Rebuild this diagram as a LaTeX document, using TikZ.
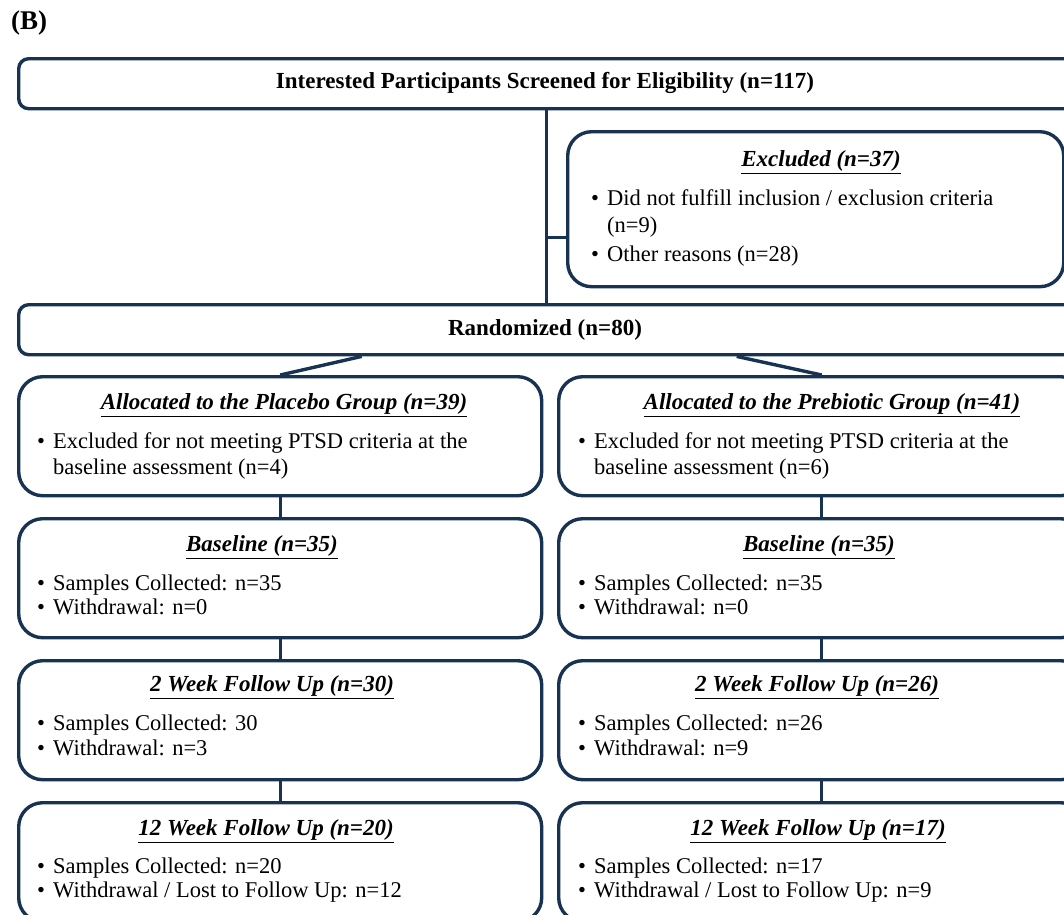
\documentclass[tikz,border=0pt]{standalone}
\usepackage{fontspec}
\setmainfont{Liberation Serif}
\definecolor{navy}{RGB}{24,50,82}
\newcommand{\mybul}{\makebox[16pt][l]{\textbullet}}
\newcommand{\ttltext}[1]{\underline{#1}}
\begin{document}
\begin{tikzpicture}[x=1pt,y=-1pt,
 box/.style={draw=navy, line width=3.4pt, rounded corners=24pt, anchor=north west, inner sep=0pt},
 widebox/.style={box, rounded corners=10pt, minimum width=1056pt, minimum height=50pt},
 colbox/.style={box, minimum height=119pt},
 lbox/.style={colbox, minimum width=523pt},
 rbox/.style={colbox, minimum width=526pt},
 hd/.style={font=\fontsize{23}{27}\selectfont\bfseries, inner sep=0pt},
 ttl/.style={font=\fontsize{23}{27}\selectfont\bfseries\itshape, inner sep=0pt},
 txt/.style={font=\fontsize{22.5}{26}\selectfont, anchor=base west, inner sep=0pt},
 link/.style={draw=navy, line width=3.4pt}]
\useasboundingbox (0,0) rectangle (1064,914);
\clip (0,0) rectangle (1064,914);

% label
\node[font=\fontsize{27}{30}\selectfont\bfseries, inner sep=0pt, anchor=west] (lab) at (11,23) {(B)};

% boxes
\node[widebox] (top) at (17,57) {};
\node[box, minimum width=496pt, minimum height=155pt] (exc) at (566,130) {};
\node[widebox] (rand) at (17,303) {};
\node[lbox] (pl) at (17,375) {};
\node[rbox] (pb) at (557,375) {};
\node[lbox] (bl) at (17,517) {};
\node[rbox] (bb) at (557,517) {};
\node[lbox] (wl) at (17,659) {};
\node[rbox] (wb) at (557,659) {};
\node[lbox] (tl) at (17,801) {};
\node[rbox] (tb) at (557,801) {};

% connectors
\draw[link] (top.south) -- (rand.north);
\coordinate (excin) at ([yshift=-28pt]exc.west);
\draw[link] (excin) -- (excin -| top.south);
\draw[link] ([xshift=-185pt]rand.south) -- (pl.north);
\draw[link] ([xshift=190pt]rand.south) -- (pb.north);
\draw[link] (pl.south) -- (bl.north);
\draw[link] (bl.south) -- (wl.north);
\draw[link] (wl.south) -- (tl.north);
\draw[link] (pb.south) -- (bb.north);
\draw[link] (bb.south) -- (wb.north);
\draw[link] (wb.south) -- (tb.north);

% top texts
\node[hd] (toptxt) at (545,83) {Interested Participants Screened for Eligibility (n=117)};
\node[hd] (randtxt) at (545,330) {Randomized (n=80)};

% excluded
\node[ttl] (exct) at (821,162) {\ttltext{Excluded (n=37)}};
\node[txt] (exc1) at (591,205) {\mybul Did not fulfill inclusion / exclusion criteria};
\node[txt] (exc2) at (607,232) {(n=9)};
\node[txt] (exc3) at (591,261) {\mybul Other reasons (n=28)};

% placebo column
\node[ttl] (plt) at (284,405) {\ttltext{Allocated to the Placebo Group (n=39)}};
\node[txt] (pl1) at (37,448) {\mybul Excluded for not meeting PTSD criteria at the};
\node[txt] (pl2) at (53,474) {baseline assessment (n=4)};

\node[ttl] (blt) at (262,547) {\ttltext{Baseline (n=35)}};
\node[txt] (bl1) at (37,590) {\mybul Samples Collected: n=35};
\node[txt] (bl2) at (37,614) {\mybul Withdrawal: n=0};

\node[ttl] (wlt) at (272,687) {\ttltext{2 Week Follow Up (n=30)}};
\node[txt] (wl1) at (37,730) {\mybul Samples Collected: 30};
\node[txt] (wl2) at (37,755) {\mybul Withdrawal: n=3};

\node[ttl] (tlt) at (266,831) {\ttltext{12 Week Follow Up (n=20)}};
\node[txt] (tl1) at (37,873) {\mybul Samples Collected: n=20};
\node[txt] (tl2) at (37,897) {\mybul Withdrawal / Lost to Follow Up: n=12};

% prebiotic column
\node[ttl] (pbt) at (832,405) {\ttltext{Allocated to the Prebiotic Group (n=41)}};
\node[txt] (pb1) at (578,448) {\mybul Excluded for not meeting PTSD criteria at the};
\node[txt] (pb2) at (594,474) {baseline assessment (n=6)};

\node[ttl] (bbt) at (819,547) {\ttltext{Baseline (n=35)}};
\node[txt] (bb1) at (578,590) {\mybul Samples Collected: n=35};
\node[txt] (bb2) at (578,614) {\mybul Withdrawal: n=0};

\node[ttl] (wbt) at (817,687) {\ttltext{2 Week Follow Up (n=26)}};
\node[txt] (wb1) at (578,730) {\mybul Samples Collected: n=26};
\node[txt] (wb2) at (578,755) {\mybul Withdrawal: n=9};

\node[ttl] (tbt) at (818,831) {\ttltext{12 Week Follow Up (n=17)}};
\node[txt] (tb1) at (578,873) {\mybul Samples Collected: n=17};
\node[txt] (tb2) at (578,897) {\mybul Withdrawal / Lost to Follow Up: n=9};
\end{tikzpicture}
\end{document}
